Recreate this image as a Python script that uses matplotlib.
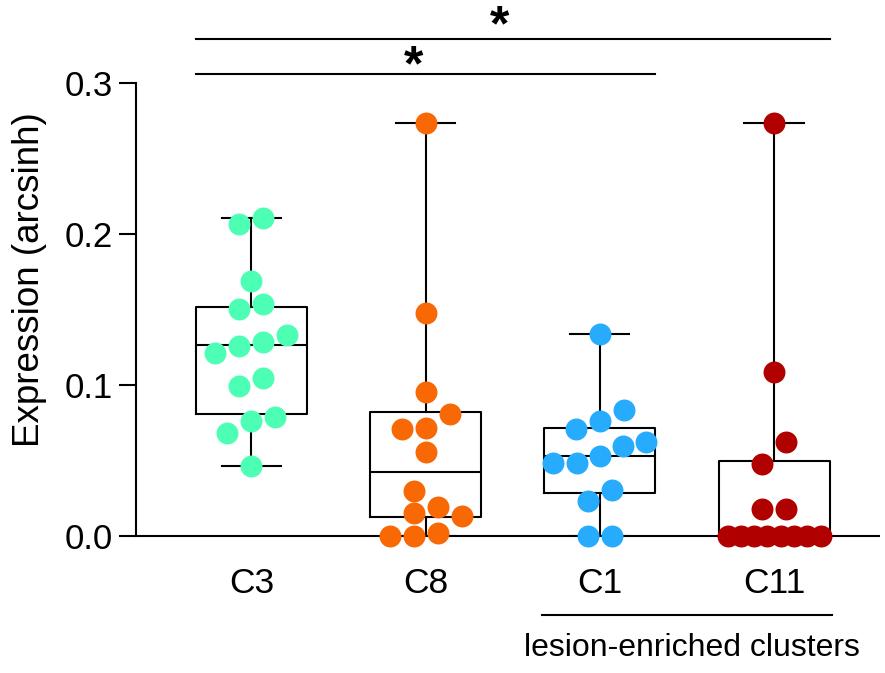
import numpy as np
import matplotlib
matplotlib.use('Agg')
import matplotlib.pyplot as plt

plt.rcParams['font.family'] = ['Liberation Sans', 'DejaVu Sans']

# values
groups = ['C3', 'C8', 'C1', 'C11']
colors = ['#4dffb4', '#f86905', '#27acfd', '#b00000']
c3 = [0.2104, 0.2064, 0.169, 0.1534, 0.1505, 0.126, 0.1331, 0.1283,
      0.1214, 0.1049, 0.0991, 0.0762, 0.0788, 0.0682, 0.0464]
c8 = [0.2737, 0.1475, 0.0956, 0.0806, 0.0709, 0.0713, 0.0559, 0.030,
      0.0194, 0.015, 0.0132, 0.0, 0.0022, 0.0]
c1 = [0.1338, 0.0834, 0.0707, 0.0762, 0.0625, 0.0598, 0.053, 0.0481,
      0.0486, 0.0305, 0.0232, 0.0, 0.0]
c11 = [0.2737, 0.1088, 0.062, 0.0477, 0.0177, 0.0177,
       0.0, 0.0, 0.0, 0.0, 0.0, 0.0, 0.0, 0.0]
data = [c3, c8, c1, c11]
q1 = [0.081, 0.0124, 0.0287, 0.0]
med = [0.1263, 0.0426, 0.053, 0.0]
q3 = [0.1517, 0.0821, 0.0717, 0.0497]
yticks = [0.0, 0.1, 0.2, 0.3]
sig_pairs = [(0, 2), (0, 3)]

W, H, DPI = 8.85, 6.73, 100
fig = plt.figure(figsize=(W, H), dpi=DPI)
ax = fig.add_axes([136 / 885, 137 / 673, 742.6 / 885, 453 / 673])
xlim = (-0.663, 3.6)
ylim = (0.0, 0.3)
ax.set_xlim(*xlim)
ax.set_ylim(*ylim)

px = 742.6 / (xlim[1] - xlim[0])   # pixels per x unit
py = 453 / (ylim[1] - ylim[0])     # pixels per y unit
hw = 0.3186                        # half box width
d = 22.0                           # marker diameter in px


def swarm(vals, xc, step=24.0, maxspan=93.0):
    v = np.sort(np.asarray(vals, dtype=float))
    rows = []
    for val in v:
        if rows and (val - rows[-1][0]) * py < d:
            rows[-1].append(val)
        else:
            rows.append([val])
    placed = []
    xs_out, ys_out = [], []
    for row in rows:
        n = len(row)
        s = step if n < 2 else min(step, maxspan / (n - 1))
        base = (np.arange(n) - (n - 1) / 2) * s
        best = base
        for shift in (0, step / 2, -step / 2, step, -step):
            xs = base + shift
            ok = True
            for x, val in zip(xs, row):
                for x0, y0 in placed:
                    if np.hypot(x - x0, val * py - y0) < d * 0.98:
                        ok = False
                        break
                if not ok:
                    break
            if ok:
                best = xs
                break
        for x, val in zip(best, row):
            placed.append((x, val * py))
            xs_out.append(xc + x / px)
            ys_out.append(val)
    return xs_out, ys_out


pos = np.arange(len(groups))
stats = []
for i, vals in enumerate(data):
    stats.append(dict(med=med[i], q1=q1[i], q3=q3[i],
                      whislo=min(vals), whishi=max(vals), fliers=[]))
lp = dict(color='black', linewidth=1.5)
ax.bxp(stats, positions=pos, widths=2 * hw, capwidths=0.34, showfliers=False,
       boxprops=lp, whiskerprops=lp, capprops=lp, medianprops=lp, zorder=2)

for i, vals in enumerate(data):
    xs, ys = swarm(vals, pos[i])
    ax.plot(xs, ys, 'o', color=colors[i], markersize=15.8, markeredgewidth=0,
            clip_on=False, zorder=3)

for s in ['top', 'right']:
    ax.spines[s].set_visible(False)
for s in ['left', 'bottom']:
    ax.spines[s].set_linewidth(1.5)

ax.set_yticks(yticks)
ax.set_yticklabels(['%.1f' % t for t in yticks])
ax.set_xticks(pos)
ax.set_xticklabels(groups)
ax.tick_params(axis='y', length=12, width=1.5, pad=4.5, labelsize=25)
ax.tick_params(axis='x', length=0, pad=22, labelsize=25.5)

fig.text(30 / 885, 1 - 280 / 673, 'Expression (arcsinh)', rotation=90,
         ha='center', va='center', fontsize=26.5)

# significance bars
sig_y = [0.306, 0.3291]
star_x = [0.93, 1.427]
star_y = [0.3018, 0.3283]
for (a, b), y, sx, sy in zip(sig_pairs, sig_y, star_x, star_y):
    ax.plot([pos[a] - hw, pos[b] + hw], [y, y], color='black', lw=1.5,
            clip_on=False)
    ax.text(sx, sy, '*', ha='center', va='baseline', fontsize=36,
            fontweight='bold', clip_on=False)

# group bracket under the lesion-enriched clusters
ax.plot([pos[2] - 0.33, pos[3] + 0.33], [-0.0523, -0.0523], color='black',
        lw=1.5, clip_on=False)
ax.text((pos[2] + pos[3]) / 2 + 0.026, -0.0795, 'lesion-enriched clusters',
        ha='center', va='baseline', fontsize=23)

fig.savefig('out.png', dpi=DPI)
